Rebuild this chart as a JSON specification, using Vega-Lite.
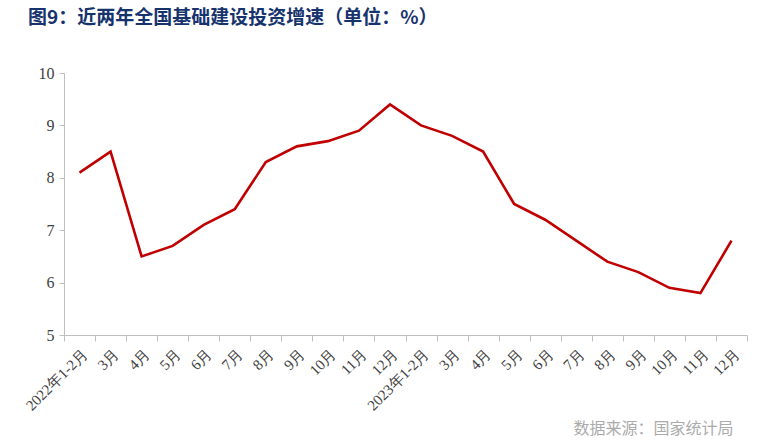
{
  "$schema": "https://vega.github.io/schema/vega-lite/v6.json",
  "width": 683,
  "height": 262,
  "autosize": {"type": "none"},
  "padding": {"left": 64, "top": 73, "right": 33, "bottom": 113},
  "background": "white",
  "title": {
    "text": "图9：近两年全国基础建设投资增速（单位：%）",
    "anchor": "start",
    "frame": "group",
    "dx": -36,
    "offset": 37,
    "font": "Noto Sans CJK SC",
    "fontSize": 19,
    "fontWeight": "bold",
    "color": "#17336E"
  },
  "config": {"view": {"stroke": null}},
  "data": {
    "values": [
      {"month": "2022年1-2月", "v": 8.1},
      {"month": "2022年3月", "v": 8.5},
      {"month": "2022年4月", "v": 6.5},
      {"month": "2022年5月", "v": 6.7},
      {"month": "2022年6月", "v": 7.1},
      {"month": "2022年7月", "v": 7.4},
      {"month": "2022年8月", "v": 8.3},
      {"month": "2022年9月", "v": 8.6},
      {"month": "2022年10月", "v": 8.7},
      {"month": "2022年11月", "v": 8.9},
      {"month": "2022年12月", "v": 9.4},
      {"month": "2023年1-2月", "v": 9.0},
      {"month": "2023年3月", "v": 8.8},
      {"month": "2023年4月", "v": 8.5},
      {"month": "2023年5月", "v": 7.5},
      {"month": "2023年6月", "v": 7.2},
      {"month": "2023年7月", "v": 6.8},
      {"month": "2023年8月", "v": 6.4},
      {"month": "2023年9月", "v": 6.2},
      {"month": "2023年10月", "v": 5.9},
      {"month": "2023年11月", "v": 5.8},
      {"month": "2023年12月", "v": 6.8}
    ]
  },
  "mark": {"type": "line", "color": "#C00000", "strokeWidth": 2.6},
  "encoding": {
    "x": {
      "field": "month",
      "type": "ordinal",
      "sort": null,
      "scale": {"type": "band", "paddingInner": 0, "paddingOuter": 0},
      "axis": {
        "title": "数据来源：国家统计局",
        "titleX": 669,
        "titleY": 93,
        "titleAlign": "right",
        "titleBaseline": "middle",
        "titleFont": "Noto Sans CJK SC",
        "titleFontSize": 16,
        "titleFontWeight": "normal",
        "titleColor": "#ABABAB",
        "labelExpr": "isString(datum.label) ? (length(datum.label) == 9 ? datum.label : substring(datum.label, 5)) : ''",
        "labelAngle": -45,
        "labelPadding": 5,
        "labelFont": "Liberation Serif",
        "labelFontSize": 15,
        "labelColor": "#404040",
        "tickBand": "extent",
        "tickSize": 6,
        "tickColor": "#BFBFBF",
        "domainColor": "#BFBFBF",
        "grid": false
      }
    },
    "y": {
      "field": "v",
      "type": "quantitative",
      "scale": {"domain": [5, 10], "zero": false, "nice": false},
      "axis": {
        "title": null,
        "values": [5, 6, 7, 8, 9, 10],
        "labelFont": "Liberation Serif",
        "labelFontSize": 16,
        "labelColor": "#404040",
        "labelPadding": 5,
        "tickSize": 5,
        "tickColor": "#BFBFBF",
        "domainColor": "#BFBFBF",
        "grid": false
      }
    }
  }
}
